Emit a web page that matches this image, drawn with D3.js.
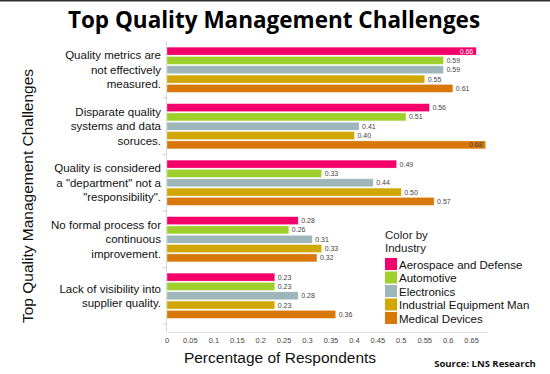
<!DOCTYPE html>
<html>
<head>
<meta charset="utf-8">
<script src="https://cdn.jsdelivr.net/npm/d3@7"></script>
<style>
  body { margin: 0; background: #fff; }
  svg { display: block; font-family: "Liberation Sans", Arial, sans-serif; }
</style>
</head>
<body>
<script>
// categories (rows) and their wrapped labels
const challenges = [
  "Quality metrics are not effectively measured.",
  "Disparate quality systems and data soruces.",
  "Quality is considered a \"department\" not a \"responsibility\".",
  "No formal process for continuous improvement.",
  "Lack of visibility into supplier quality."
];
const challengeLines = [
  ["Quality metrics are", "not effectively", "measured."],
  ["Disparate quality", "systems and data", "soruces."],
  ["Quality is considered", "a \"department\" not a", "\"responsibility\"."],
  ["No formal process for", "continuous", "improvement."],
  ["Lack of visibility into", "supplier quality."]
];

const industries = ["Aerospace and Defense", "Automotive", "Electronics", "Industrial Equipment Man", "Medical Devices"];

// values per industry, in challenge order
const aerospace  = [0.66, 0.56, 0.49, 0.28, 0.23];
const automotive = [0.59, 0.51, 0.33, 0.26, 0.23];
const electronics = [0.59, 0.41, 0.44, 0.31, 0.28];
const industrial = [0.55, 0.40, 0.50, 0.33, 0.23];
const medical    = [0.61, 0.68, 0.57, 0.32, 0.36];

const xTicks = [0, 0.05, 0.1, 0.15, 0.2, 0.25, 0.3, 0.35, 0.4, 0.45, 0.5, 0.55, 0.6, 0.65];

const seriesValues = [aerospace, automotive, electronics, industrial, medical];
const colors = ["#f5006a", "#9fcf2c", "#9eb6b9", "#d1a706", "#d8780a"];

const width = 550, height = 374;

const svg = d3.select("body").append("svg")
  .attr("width", width)
  .attr("height", height);

// thin frame line at the top
svg.append("line")
  .attr("x1", 0).attr("x2", width)
  .attr("y1", 0.75).attr("y2", 0.75)
  .attr("stroke", "#333").attr("stroke-width", 1.5);

// title
svg.append("text")
  .attr("x", 274).attr("y", 28)
  .attr("text-anchor", "middle")
  .attr("font-size", 22.5).attr("font-weight", "bold")
  .attr("font-family", "'Open Sans', 'Liberation Sans', sans-serif")
  .attr("fill", "#000")
  .text("Top Quality Management Challenges");

const x = d3.scaleLinear().domain([0, 0.7]).range([167, 495]);
const y0 = d3.scaleBand().domain(challenges).range([41.5, 324]).paddingInner(0.2).paddingOuter(0.1);
const y1 = d3.scaleBand().domain(industries).range([0, y0.bandwidth()]).paddingInner(0.15);
const color = d3.scaleOrdinal().domain(industries).range(colors);

const rows = challenges.map((c, i) => ({
  challenge: c,
  lines: challengeLines[i],
  bars: industries.map((ind, j) => ({ industry: ind, value: seriesValues[j][i] }))
}));

// axis lines
svg.append("line")
  .attr("x1", x(0) - 0.5).attr("x2", x(0) - 0.5)
  .attr("y1", 41).attr("y2", 332)
  .attr("stroke", "#d8d8d8");
svg.append("line")
  .attr("x1", x(0) - 0.5).attr("x2", 488)
  .attr("y1", 332.5).attr("y2", 332.5)
  .attr("stroke", "#e4e4e4");

// small separators between row groups
svg.append("g").selectAll("line")
  .data(challenges)
  .join("line")
  .attr("x1", x(0) - 4).attr("x2", x(0))
  .attr("y1", d => y0(d) + y0.bandwidth() + y0.step() * 0.1)
  .attr("y2", d => y0(d) + y0.bandwidth() + y0.step() * 0.1)
  .attr("stroke", "#d0d0d0");

const groups = svg.append("g").selectAll("g")
  .data(rows)
  .join("g")
  .attr("transform", d => `translate(0,${y0(d.challenge)})`);

groups.selectAll("rect")
  .data(d => d.bars)
  .join("rect")
  .attr("x", x(0))
  .attr("y", d => y1(d.industry))
  .attr("width", d => x(d.value) - x(0))
  .attr("height", y1.bandwidth())
  .attr("fill", d => color(d.industry))
  .attr("stroke", "#fff")
  .attr("stroke-opacity", 0.5)
  .attr("stroke-width", 0.6);

// value labels: long bars carry the label inside
groups.selectAll("text.val")
  .data(d => d.bars)
  .join("text")
  .attr("class", "val")
  .attr("x", d => d.value > 0.62 ? x(d.value) - 3 : x(d.value) + 3)
  .attr("y", d => y1(d.industry) + y1.bandwidth() / 2 + 2.5)
  .attr("text-anchor", d => d.value > 0.62 ? "end" : "start")
  .attr("font-size", 7)
  .attr("fill", d => d.value > 0.62 && d.industry === industries[0] ? "#fff" : "#444")
  .text(d => d.value.toFixed(2));

// category labels
const catLabels = svg.append("g").selectAll("text")
  .data(rows)
  .join("text")
  .attr("text-anchor", "end")
  .attr("font-size", 11.5)
  .attr("fill", "#111");
catLabels.each(function(d) {
  const n = d.lines.length;
  const cy = y0(d.challenge) + y0.bandwidth() / 2;
  d3.select(this).selectAll("tspan")
    .data(d.lines)
    .join("tspan")
    .attr("x", 161)
    .attr("y", (l, k) => cy + (k - (n - 1) / 2) * 14.5 + 4)
    .text(l => l);
});

// x tick labels
svg.append("g").selectAll("text")
  .data(xTicks)
  .join("text")
  .attr("x", d => x(d))
  .attr("y", 343)
  .attr("text-anchor", "middle")
  .attr("font-size", 7.5)
  .attr("fill", "#444")
  .text(d => d3.format("~g")(d));

// axis titles
svg.append("text")
  .attr("x", 280).attr("y", 363)
  .attr("text-anchor", "middle")
  .attr("font-size", 15.5)
  .attr("fill", "#111")
  .text("Percentage of Respondents");

svg.append("text")
  .attr("transform", "translate(33,196) rotate(-90)")
  .attr("text-anchor", "middle")
  .attr("font-size", 15.5)
  .attr("fill", "#111")
  .text("Top Quality Management Challenges");

svg.append("text")
  .attr("x", 485).attr("y", 367)
  .attr("text-anchor", "middle")
  .attr("font-size", 9.5).attr("font-weight", "bold")
  .attr("font-family", "'Open Sans', 'Liberation Sans', sans-serif")
  .attr("fill", "#111")
  .text("Source: LNS Research");

// legend
const legend = svg.append("g").attr("transform", "translate(385,0)");
legend.append("rect")
  .attr("x", -3).attr("y", 226).attr("width", 162).attr("height", 102)
  .attr("fill", "#fff");
legend.append("text").attr("x", 0).attr("y", 239).attr("font-size", 11.5).attr("fill", "#222").text("Color by");
legend.append("text").attr("x", 0).attr("y", 252).attr("font-size", 11.5).attr("fill", "#222").text("Industry");

const items = legend.selectAll("g.item")
  .data(industries)
  .join("g")
  .attr("class", "item")
  .attr("transform", (d, i) => `translate(0,${258 + i * 13.5})`);
items.append("rect")
  .attr("width", 12).attr("height", 12)
  .attr("fill", d => color(d));
items.append("text")
  .attr("x", 14).attr("y", 10.5)
  .attr("font-size", 11.5)
  .attr("fill", "#111")
  .text(d => d);
</script>
</body>
</html>
